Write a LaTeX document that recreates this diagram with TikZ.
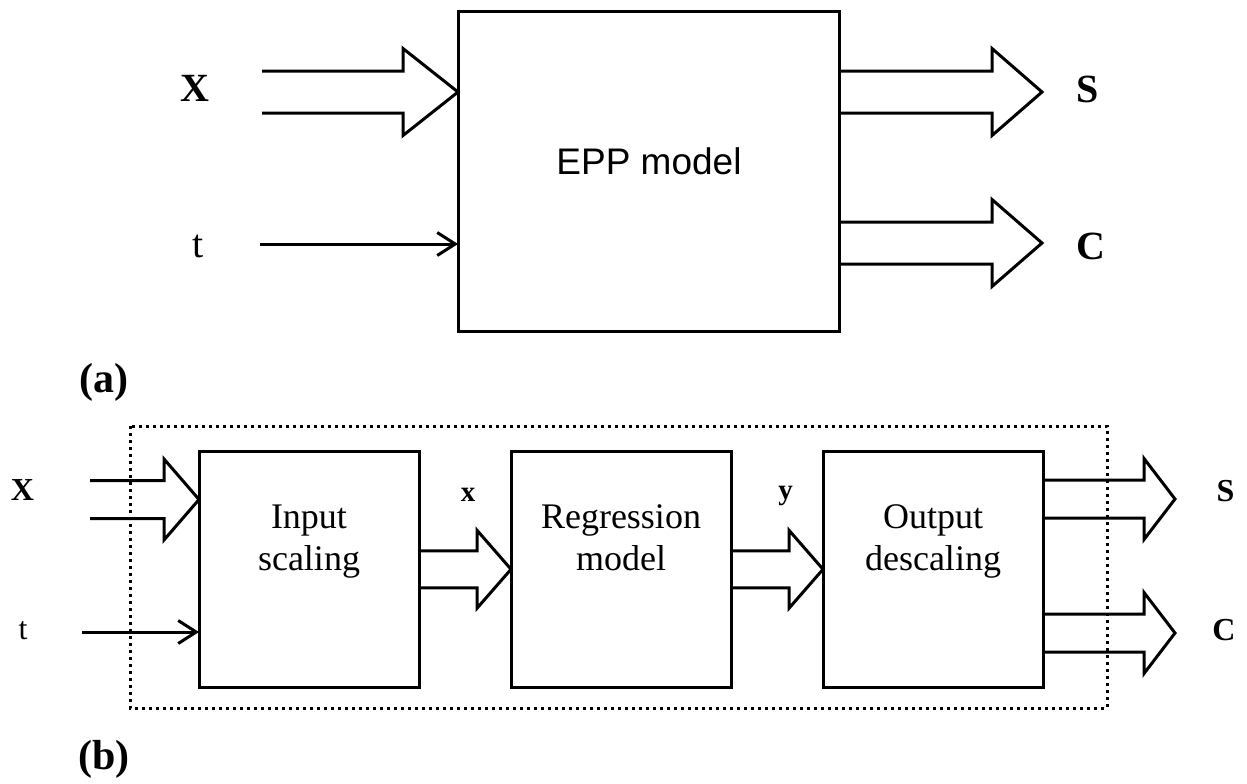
\documentclass[tikz,border=0pt]{standalone}
\usepackage{fontspec}
\setmainfont{Liberation Serif}
\newfontfamily\sansfont{Liberation Sans}
\usetikzlibrary{arrows.meta,calc}

\begin{document}
\begin{tikzpicture}[
        x=0.5pt, y=-0.5pt,
        line width=1.5pt,
        block/.style={
            draw,
            inner sep=0pt,
            outer sep=0pt
        },
        bigblock/.style={block, minimum width=190.75pt, minimum height=159.75pt},
        smallblock/.style={block, minimum width=110pt, minimum height=117.75pt},
        blocktext/.style={
            anchor=north,
            align=center,
            inner sep=0pt,
            font=\fontsize{18}{21}\selectfont
        },
        biglabel/.style={anchor=base, inner sep=0pt, font=\fontsize{20}{24}\selectfont},
        smalllabel/.style={anchor=base, inner sep=0pt, font=\fontsize{16}{19}\selectfont},
        varlabel/.style={anchor=base, inner sep=0pt, font=\fontsize{14.5}{17}\selectfont\bfseries},
        % hollow block arrow: body half width, head half width, head length
        fat/.style n args={3}{
            fill=white,
            to path={let \p1=(\tikztostart), \p2=(\tikztotarget) in
                (\x1,\y2+#1) -- (\x2-#3,\y2+#1) -- (\x2-#3,\y2+#2) -- (\p2)
                -- (\x2-#3,\y2-#2) -- (\x2-#3,\y2-#1) -- (\x1,\y2-#1)}
        },
        thin/.style={-{Straight Barb[length=9pt,width=11.5pt]}}
    ]

    \useasboundingbox (0,0) rectangle (1247,783);

    % (a) single model
    \node[bigblock] (epp) at (648.75,171.25) {};
    \node[anchor=base, inner sep=0pt, font=\sansfont\fontsize{18.5}{22}\selectfont]
        (epptext) at (649,174) {EPP model};

    \coordinate (xin) at (262,92);
    \coordinate (tin) at (260,244);
    \coordinate (sout) at (1042,92);
    \coordinate (cout) at (1042,243);

    \draw (xin) to[fat={10.5pt}{21.75pt}{27.5pt}] (epp.west |- xin);
    \draw[thin] (tin) -- (epp.west |- tin);
    \draw (epp.east |- sout) to[fat={10.5pt}{21.75pt}{25pt}] (sout);
    \draw (epp.east |- cout) to[fat={10.5pt}{21.75pt}{25pt}] (cout);

    \node[biglabel, font=\fontsize{20}{24}\selectfont\bfseries] (xa) at (195,101.7) {X};
    \node[biglabel] (ta) at (198,257) {t};
    \node[biglabel, font=\fontsize{20}{24}\selectfont\bfseries] (sa) at (1088,102) {S};
    \node[biglabel, font=\fontsize{20}{24}\selectfont\bfseries] (ca) at (1090.5,259) {C};

    \node[biglabel, font=\fontsize{21}{25}\selectfont\bfseries] (capa) at (103.5,392) {(a)};

    % (b) scaled regression chain
    \draw[line width=1.5pt, dash pattern=on 1.5pt off 2pt]
        (130,426) rectangle (1107,708);

    \node[smallblock] (scale) at (309,569.25) {};
    \node[smallblock] (regr) at (621,569.25) {};
    \node[smallblock] (descale) at (933,569.25) {};

    \node[blocktext] (scaletext) at (309,503.2) {Input\\scaling};
    \node[blocktext] (regrtext) at (621,503.2) {Regression\\model};
    \node[blocktext] (descaletext) at (933,503.2) {Output\\descaling};

    \coordinate (xin2) at (90,499.5);
    \coordinate (tin2) at (82,632);
    \coordinate (sout2) at (1175,499);
    \coordinate (cout2) at (1175,633);

    \draw (xin2) to[fat={9.5pt}{20.25pt}{17.5pt}] (scale.west |- xin2);
    \draw[thin] (tin2) -- (scale.west |- tin2);
    \draw (scale.east) to[fat={9.25pt}{19.5pt}{17pt}] (regr.west);
    \draw (regr.east) to[fat={9.25pt}{19.5pt}{17pt}] (descale.west);
    \draw (descale.east |- sout2) to[fat={9.5pt}{20.25pt}{15.5pt}] (sout2);
    \draw (descale.east |- cout2) to[fat={9.5pt}{20.25pt}{15.5pt}] (cout2);

    \node[smalllabel, font=\fontsize{16}{19}\selectfont\bfseries] (xb) at (22.5,500.7) {X};
    \node[smalllabel] (tb) at (23,639) {t};
    \node[varlabel] (xvar) at (468,501.7) {x};
    \node[varlabel] (yvar) at (785.5,499) {y};
    \node[smalllabel, font=\fontsize{16}{19}\selectfont\bfseries] (sb) at (1225.5,501.7) {S};
    \node[smalllabel, font=\fontsize{16}{19}\selectfont\bfseries] (cb) at (1224,640) {C};

    \node[biglabel, font=\fontsize{21}{25}\selectfont\bfseries] (capb) at (104,769.5) {(b)};

\end{tikzpicture}
\end{document}
